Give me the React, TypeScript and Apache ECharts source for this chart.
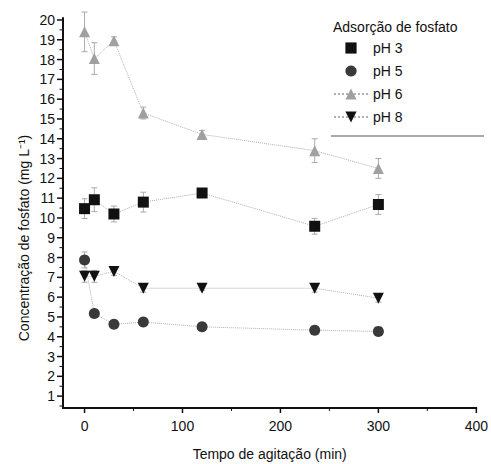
import React, { useEffect, useRef } from "react";
import * as echarts from "echarts";

const times = [0, 10, 30, 60, 120, 235, 300];
const pH3 = [10.47, 10.92, 10.2, 10.8, 11.26, 9.58, 10.68];
const pH5 = [7.88, 5.17, 4.63, 4.74, 4.5, 4.33, 4.27];
const pH6 = [19.4, 18.05, 18.95, 15.3, 14.22, 13.4, 12.5];
const pH8 = [7.05, 7.05, 7.3, 6.45, 6.45, 6.45, 5.95];
const err3 = [0.5, 0.6, 0.4, 0.5, 0.2, 0.4, 0.5];
const err5 = [0.4, 0.2, 0.2, 0.2, 0.2, 0.2, 0.1];
const err6 = [1.0, 0.8, 0.2, 0.3, 0.2, 0.6, 0.5];
const err8 = [0.3, 0.3, 0.2, 0.2, 0.1, 0.2, 0.2];
const yLabels = Array.from({ length: 20 }, (_, i) => i + 1);
const yMinor = Array.from({ length: 20 }, (_, i) => i + 0.5);
const xLabels = [0, 100, 200, 300, 400];
const xMinor = [50, 150, 250, 350];
const X_MIN = -22;
const X_MAX = 400;
const Y_MIN = 0.4;
const Y_MAX = 20.1;

const FONT = "Liberation Sans";

export default function App() {
  const ref = useRef<HTMLDivElement>(null);
  useEffect(() => {
    const chart = echarts.init(ref.current!, null, { renderer: "svg" });
    const mk = (ys: number[]) => times.map((t, i) => [t, ys[i]]);
    const errSeries = (ys: number[], es: number[]) => ({
      type: "custom",
      silent: true,
      data: times.map((t, i) => [t, ys[i] - es[i], ys[i] + es[i]]),
      renderItem: (params: any, api: any) => {
        const x = api.value(0);
        const lo = api.coord([x, api.value(1)]);
        const hi = api.coord([x, api.value(2)]);
        const st = { stroke: "#aaa", lineWidth: 1 };
        return {
          type: "group",
          children: [
            { type: "line", shape: { x1: lo[0], y1: lo[1], x2: hi[0], y2: hi[1] }, style: st },
            { type: "line", shape: { x1: lo[0] - 3, y1: lo[1], x2: lo[0] + 3, y2: lo[1] }, style: st },
            { type: "line", shape: { x1: hi[0] - 3, y1: hi[1], x2: hi[0] + 3, y2: hi[1] }, style: st },
          ],
        };
      },
    });
    const lineS = (name: string, ys: number[], symbol: string, color: string, size: number, rot = 0) => ({
      name,
      type: "line",
      data: mk(ys),
      symbol,
      symbolSize: size,
      symbolRotate: rot,
      itemStyle: { color },
      lineStyle: { color: "#b0b0b0", width: 1, type: "dotted" },
    });
    const baseGraphic: any[] = [
      {
        id: "legendTitle",
        type: "text",
        left: 333,
        top: 20,
        style: { text: "Adsorção de fosfato", fontSize: 14, fill: "#111", fontFamily: FONT },
      },
      {
        id: "yName",
        type: "text",
        x: 24,
        y: 238,
        rotation: Math.PI / 2,
        style: {
          text: "Concentração de fosfato (mg L⁻¹)",
          fontSize: 14,
          fill: "#111",
          fontFamily: FONT,
          align: "center",
          verticalAlign: "middle",
        },
      },
      {
        id: "legendLine",
        type: "line",
        shape: { x1: 331, y1: 136, x2: 484, y2: 136 },
        style: { stroke: "#555", lineWidth: 1 },
      },
    ];
    chart.setOption({
      animation: false,
      textStyle: { fontFamily: FONT },
      grid: { left: 63, right: 10, top: 18, bottom: 56 },
      xAxis: {
        type: "value",
        min: X_MIN,
        max: X_MAX,
        axisLine: { show: true, onZero: false, lineStyle: { color: "#111", width: 2 } },
        axisTick: { show: false },
        axisLabel: { customValues: xLabels, fontSize: 14, color: "#111", margin: 11, fontFamily: FONT },
        splitLine: { show: false },
      },
      yAxis: {
        type: "value",
        min: Y_MIN,
        max: Y_MAX,
        axisLine: { show: true, onZero: false, lineStyle: { color: "#111", width: 2 } },
        axisTick: { show: false },
        axisLabel: { customValues: yLabels, fontSize: 14, color: "#111", margin: 8, fontFamily: FONT },
        splitLine: { show: false },
      },
      legend: {
        orient: "vertical",
        left: 328,
        top: 36,
        itemWidth: 34,
        itemHeight: 14,
        itemGap: 9,
        textStyle: { fontSize: 14, color: "#111", fontFamily: FONT },
        data: [
          { name: "pH 3", lineStyle: { opacity: 0 } },
          { name: "pH 5", lineStyle: { opacity: 0 } },
          { name: "pH 6" },
          { name: "pH 8" },
        ],
      },
      graphic: baseGraphic,
      series: [
        errSeries(pH3, err3),
        errSeries(pH5, err5),
        errSeries(pH6, err6),
        errSeries(pH8, err8),
        lineS("pH 3", pH3, "rect", "#111", 11),
        lineS("pH 5", pH5, "circle", "#3a3a3a", 11),
        lineS("pH 6", pH6, "triangle", "#a0a0a0", 11),
        lineS("pH 8", pH8, "triangle", "#111", 11, 180),
      ],
    });

    // axis frame and ticks as filled rects, positioned through the chart's own scales
    const px = (x: number, y: number) => chart.convertToPixel({ gridIndex: 0 }, [x, y]) as number[];
    const [left, bottom] = px(X_MIN, Y_MIN);
    const [right, top] = px(X_MAX, Y_MAX);
    const fill = { fill: "#111" };
    const extra: any[] = [
      { id: "axY", type: "rect", shape: { x: left - 1, y: top, width: 2, height: bottom - top + 1 }, style: fill },
      { id: "axX", type: "rect", shape: { x: left - 1, y: bottom - 1, width: right - left + 1, height: 2 }, style: fill },
    ];
    yLabels.forEach((v, i) => {
      const y = px(X_MIN, v)[1];
      extra.push({ id: "ytk" + i, type: "rect", shape: { x: left - 6, y: y - 0.75, width: 6, height: 1.5 }, style: fill });
    });
    yMinor.forEach((v, i) => {
      const y = px(X_MIN, v)[1];
      extra.push({ id: "ymn" + i, type: "rect", shape: { x: left - 3.5, y: y - 0.5, width: 3.5, height: 1 }, style: fill });
    });
    xLabels.forEach((v, i) => {
      const x = px(v, Y_MIN)[0];
      extra.push({ id: "xtk" + i, type: "rect", shape: { x: x - 0.75, y: bottom, width: 1.5, height: 5 }, style: fill });
    });
    xMinor.forEach((v, i) => {
      const x = px(v, Y_MIN)[0];
      extra.push({ id: "xmn" + i, type: "rect", shape: { x: x - 0.5, y: bottom, width: 1, height: 3 }, style: fill });
    });
    extra.push({
      id: "xName",
      type: "text",
      x: (left + right) / 2,
      y: bottom + 46,
      style: {
        text: "Tempo de agitação (min)",
        fontSize: 14,
        fill: "#111",
        fontFamily: FONT,
        align: "center",
        verticalAlign: "middle",
      },
    });
    chart.setOption({ graphic: [...baseGraphic, ...extra] });
    return () => chart.dispose();
  }, []);
  return <div ref={ref} style={{ width: 491, height: 464, position: "absolute", left: 0, top: 0 }} />;
}
